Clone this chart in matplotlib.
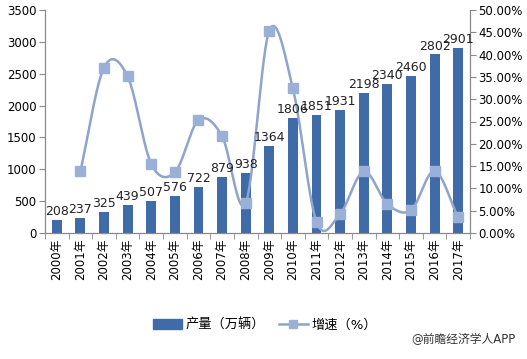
import numpy as np
import matplotlib
matplotlib.use("Agg")
import matplotlib.pyplot as plt
from matplotlib.lines import Line2D
from matplotlib.patches import Patch

plt.rcParams['font.family'] = ['DejaVu Sans', 'Noto Sans CJK SC']

# data
years = ["2000年", "2001年", "2002年", "2003年", "2004年", "2005年", "2006年", "2007年", "2008年",
         "2009年", "2010年", "2011年", "2012年", "2013年", "2014年", "2015年", "2016年", "2017年"]
output = [208, 237, 325, 439, 507, 576, 722, 879, 938, 1364, 1806, 1851, 1931, 2198, 2340, 2460, 2802, 2901]
growth_years = years[1:]
growth = [13.9, 37.1, 35.1, 15.5, 13.6, 25.3, 21.7, 6.7, 45.4, 32.4, 2.5, 4.3, 13.8, 6.5, 5.1, 13.9, 3.5]

bar_color = "#3f6ca9"
line_color = "#8ea4ca"
marker_color = "#9bb0d6"


def smooth(x, y, n=30):
    # catmull-rom style smoothing like the spreadsheet "smoothed line"
    x = np.asarray(x, float)
    y = np.asarray(y, float)
    px = np.concatenate([[2 * x[0] - x[1]], x, [2 * x[-1] - x[-2]]])
    py = np.concatenate([[2 * y[0] - y[1]], y, [2 * y[-1] - y[-2]]])
    xs, ys = [], []
    t = np.linspace(0, 1, n)
    for i in range(1, len(px) - 2):
        p0, p1, p2, p3 = py[i - 1], py[i], py[i + 1], py[i + 2]
        m1 = (p2 - p0) / 2
        m2 = (p3 - p1) / 2
        h00 = 2 * t**3 - 3 * t**2 + 1
        h10 = t**3 - 2 * t**2 + t
        h01 = -2 * t**3 + 3 * t**2
        h11 = t**3 - t**2
        ys.append(h00 * p1 + h10 * m1 + h01 * p2 + h11 * m2)
        xs.append(px[i] + t * (px[i + 1] - px[i]))
    return np.concatenate(xs), np.concatenate(ys)


fig = plt.figure(figsize=(5.27, 3.59), dpi=100)
ax = fig.add_axes([45 / 527, 1 - 233 / 359, 425 / 527, 223 / 359])
ax2 = ax.twinx()

x = np.arange(len(years))
ax.bar(x, output, width=0.42, color=bar_color, zorder=2)

gx = x[1:]
sx, sy = smooth(gx, growth)
ax2.plot(sx, sy, color=line_color, lw=1.8, zorder=3)
ax2.plot(gx, growth, ls="none", marker="s", ms=7, color=marker_color, zorder=4)

# value labels drawn on the top axes so they sit above the line
for xi, v in zip(x, output):
    ax2.text(xi, v + 30, str(v), transform=ax.transData, ha="center", va="bottom",
             fontsize=9, color="#222222", zorder=6)

ax.set_xlim(-0.5, len(years) - 0.5)
ax.set_ylim(0, 3500)
ax.set_yticks(range(0, 3501, 500))
ax2.set_ylim(0, 50)
ax2.set_yticks(range(0, 51, 5))
ax2.set_yticklabels([f"{v:.2f}%" for v in range(0, 51, 5)])

ax.set_xticks(np.arange(-0.5, len(years), 1), minor=True)
ax.set_xticks(x)
ax.set_xticklabels(years, rotation=90, fontsize=8.5)
ax.tick_params(axis="x", which="major", length=0, pad=4)
ax.tick_params(axis="x", which="minor", length=4, color="#888888")
ax.tick_params(axis="y", labelsize=8.5, length=4, color="#888888", pad=2)
ax2.tick_params(axis="y", labelsize=8.5, length=4, color="#888888", pad=2)

for a in (ax, ax2):
    a.spines["top"].set_visible(False)
    for s in ("left", "right", "bottom"):
        a.spines[s].set_color("#888888")
ax2.set_zorder(ax.get_zorder() + 1)
ax2.patch.set_visible(False)

handles = [Patch(color=bar_color),
           Line2D([], [], color=line_color, lw=1.8, marker="s", ms=6, markerfacecolor=marker_color,
                  markeredgecolor=marker_color)]
fig.legend(handles, ["产量（万辆）", "增速（%）"], loc="center", bbox_to_anchor=(265 / 527, 1 - 325 / 359),
           ncol=2, frameon=False, fontsize=9.5, handlelength=2.2, columnspacing=1.0, handletextpad=0.3)

fig.text(516 / 527, 1 - 340 / 359, "@前瞻经济学人APP", ha="right", va="center", fontsize=8.5, color="#333333")

fig.savefig("out.png", dpi=100)
